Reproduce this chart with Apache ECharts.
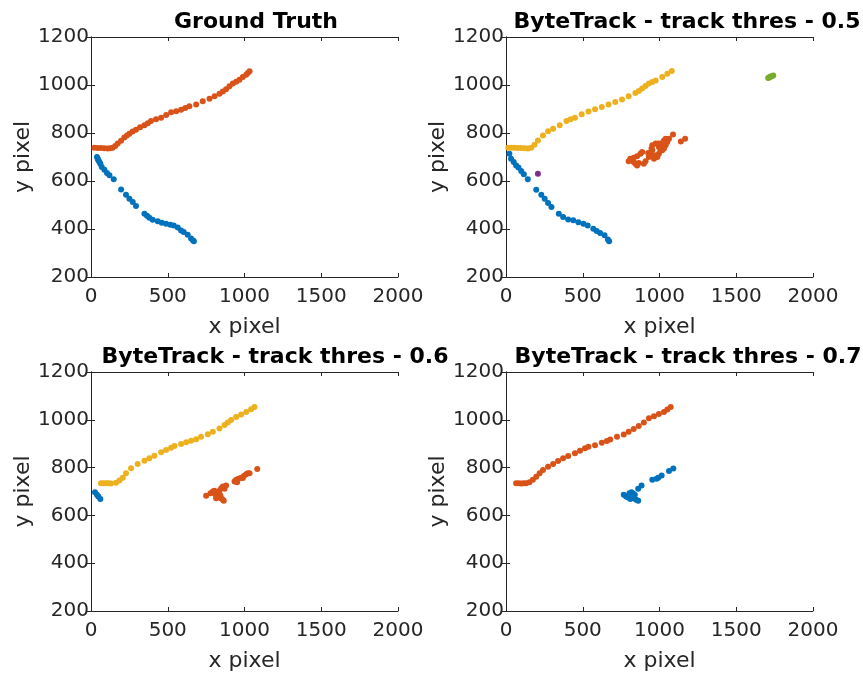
<!DOCTYPE html>
<html>
<head>
<meta charset="utf-8">
<script src="https://cdn.jsdelivr.net/npm/echarts@6/dist/echarts.min.js"></script>
<style>
  html, body { margin: 0; padding: 0; background: #fff; }
  #chart { width: 863px; height: 673px; }
</style>
</head>
<body>
<div id="chart"></div>
<script>
// panel titles
var titles = ['Ground Truth', 'ByteTrack - track thres - 0.5',
  'ByteTrack - track thres - 0.6', 'ByteTrack - track thres - 0.7'];
var xTicks = [0, 500, 1000, 1500, 2000];
var yTicks = [200, 400, 600, 800, 1000, 1200];

// Ground Truth
var gtOrange = [[22,739],[44,738],[65,737],[87,736],[109,735],[125,736],[141,739],[158,746],[174,756],[196,768],
  [217,781],[234,790],[250,797],[271,806],[293,814],[320,824],[348,832],[370,841],[391,850],[424,857],[457,864],
  [490,875],[522,886],[555,891],[587,897],[614,904],[641,911],[685,919],[728,932],[772,943],[805,953],[837,964],
  [859,973],[880,982],[902,995],[924,1006],[946,1014],[967,1022],[989,1033],[1011,1043],[1022,1050],[1033,1057]];
var gtBlue = [[39,700],[44,693],[48,686],[55,679],[61,672],[70,658],[87,647],[104,633],[120,624],[148,607],
  [196,565],[228,543],[250,526],[272,512],[293,496],[348,464],[365,455],[380,447],[402,439],[435,432],
  [461,426],[489,422],[517,418],[539,415],[565,406],[587,394],[604,387],[630,376],[652,360],[665,352],[670,349]];

// track thres 0.5
var t5Yellow = [[15,739],[35,739],[55,739],[77,738],[99,737],[120,736],[142,735],[164,739],[186,751],[208,769],
  [241,790],[274,807],[307,818],[350,832],[394,850],[421,857],[449,864],[493,878],[537,890],[580,899],
  [624,908],[668,919],[712,929],[756,940],[799,953],[843,967],[865,975],[887,985],[909,996],[931,1006],
  [953,1012],[975,1019],[1018,1033],[1051,1047],[1080,1058]];
var t5Blue = [[22,714],[33,693],[50,679],[66,665],[81,656],[99,642],[116,628],[142,607],[197,564],[230,543],
  [252,526],[274,508],[296,492],[344,464],[372,450],[405,440],[438,436],[471,428],[504,422],[532,415],
  [569,401],[591,392],[613,383],[642,374],[664,356],[672,349]];
var t5Orange = [[799,682],[810,693],[821,686],[832,679],[843,672],[854,665],[865,675],[832,697],[854,703],
  [876,714],[887,721],[898,672],[909,682],[931,700],[942,711],[953,728],[953,749],[975,756],[992,756],
  [996,742],[1007,749],[1018,758],[1029,769],[1040,776],[1051,762],[996,714],[986,700],[1007,728],
  [1029,735],[1040,749],[1062,776],[1088,794],[1139,765],[1167,776],[964,693],[975,707],[926,717],
  [948,735],[1018,728],[1045,767]];
var t5Purple = [[208,630]];
var t5Green = [[1708,1029],[1714,1031],[1719,1033],[1725,1035],[1730,1036],[1741,1040]];

// track thres 0.6
var t6Yellow = [[65,735],[82,735],[98,735],[114,734],[130,733],[163,737],[185,746],[207,758],[228,776],
  [261,797],[304,815],[348,829],[380,839],[413,850],[457,864],[489,874],[522,883],[544,890],[587,899],
  [620,906],[652,912],[685,919],[717,929],[761,940],[794,950],[837,964],[870,978],[891,989],[913,999],
  [946,1012],[978,1022],[1011,1033],[1043,1044],[1065,1054]];
var t6Blue = [[26,697],[39,686],[48,679],[61,669]];
var t6Orange = [[750,682],[778,693],[794,700],[809,689],[822,679],[826,697],[837,703],[848,714],[859,721],
  [870,711],[880,725],[848,672],[859,665],[837,675],[815,672],[935,742],[946,749],[961,753],[978,758],
  [996,765],[1011,772],[1022,776],[1033,776],[952,739],[989,756],[1083,794],[815,693],[804,703],
  [843,683],[865,661]];

// track thres 0.7
var t7Orange = [[66,735],[83,734],[99,733],[115,734],[131,735],[153,739],[175,749],[197,762],[219,776],
  [241,790],[274,804],[307,815],[339,828],[372,839],[405,849],[449,860],[482,871],[515,881],[537,887],
  [580,894],[624,904],[657,911],[679,918],[723,929],[767,939],[799,950],[832,961],[865,974],[898,989],
  [931,1006],[964,1015],[996,1024],[1029,1033],[1051,1043],[1073,1054]];
var t7Blue = [[767,686],[782,679],[795,675],[804,693],[817,697],[821,683],[832,672],[839,686],[848,665],
  [861,661],[810,669],[826,693],[861,711],[883,725],[953,749],[981,753],[992,758],[1014,767],
  [1062,786],[1090,796]];

var C = {
  blue: '#0072BD', orange: '#D95319', yellow: '#EDB120',
  purple: '#7E2F8E', green: '#77AC30'
};
var panels = [
  [[gtBlue, C.blue], [gtOrange, C.orange]],
  [[t5Blue, C.blue], [t5Orange, C.orange], [t5Yellow, C.yellow], [t5Purple, C.purple], [t5Green, C.green]],
  [[t6Blue, C.blue], [t6Orange, C.orange], [t6Yellow, C.yellow]],
  [[t7Blue, C.blue], [t7Orange, C.orange]]
];

var gridPos = [
  { left: 91, top: 37 }, { left: 506, top: 37 },
  { left: 91, top: 372 }, { left: 506, top: 372 }
];
var titleX = [251, 682, 270, 683];
var ink = '#262626';
var font = 'DejaVu Sans';

var option = {
  animation: false,
  title: [], grid: [], xAxis: [], yAxis: [], series: []
};

var plain = function(v) { return String(v); };

gridPos.forEach(function(g, i) {
  option.grid.push({
    left: g.left, top: g.top, width: 307, height: 240,
    show: false
  });
  option.title.push({
    text: titles[i],
    left: titleX[i], top: g.top - 31,
    textAlign: 'center',
    textStyle: { fontFamily: font, fontWeight: 'bold', fontSize: 22, color: '#000' }
  });
  var axisLine = { show: true, lineStyle: { color: ink, width: 1 } };
  var tick = { show: true, inside: true, length: 4, lineStyle: { color: ink } };
  // bottom / left axes with labels
  option.xAxis.push({
    gridIndex: i, type: 'value',
    min: xTicks[0], max: xTicks[xTicks.length - 1], interval: xTicks[1] - xTicks[0],
    position: 'bottom',
    name: 'x pixel', nameLocation: 'middle', nameGap: 39,
    nameTextStyle: { fontFamily: font, fontSize: 22, color: ink },
    axisLine: axisLine, axisTick: tick, splitLine: { show: false },
    axisLabel: { fontFamily: font, fontSize: 20, color: ink, margin: 10, formatter: plain }
  });
  option.yAxis.push({
    gridIndex: i, type: 'value',
    min: yTicks[0], max: yTicks[yTicks.length - 1], interval: yTicks[1] - yTicks[0],
    position: 'left',
    name: 'y pixel', nameLocation: 'middle', nameGap: 53, nameRotate: 90,
    nameTextStyle: { fontFamily: font, fontSize: 22, color: ink },
    axisLine: axisLine, axisTick: tick, splitLine: { show: false },
    axisLabel: { fontFamily: font, fontSize: 20, color: ink, margin: 2, formatter: plain }
  });
  // top / right mirror axes
  option.xAxis.push({
    gridIndex: i, type: 'value',
    min: xTicks[0], max: xTicks[xTicks.length - 1], interval: xTicks[1] - xTicks[0],
    position: 'top',
    axisLine: axisLine, axisTick: tick, splitLine: { show: false },
    axisLabel: { show: false }
  });
  option.yAxis.push({
    gridIndex: i, type: 'value',
    min: yTicks[0], max: yTicks[yTicks.length - 1], interval: yTicks[1] - yTicks[0],
    position: 'right',
    axisLine: axisLine, axisTick: tick, splitLine: { show: false },
    axisLabel: { show: false }
  });
  panels[i].forEach(function(s) {
    option.series.push({
      type: 'scatter',
      xAxisIndex: i * 2, yAxisIndex: i * 2,
      data: s[0],
      symbolSize: 6,
      itemStyle: { color: s[1], opacity: 1 }
    });
  });
});

var chart = echarts.init(document.getElementById('chart'));
chart.setOption(option);
</script>
</body>
</html>
